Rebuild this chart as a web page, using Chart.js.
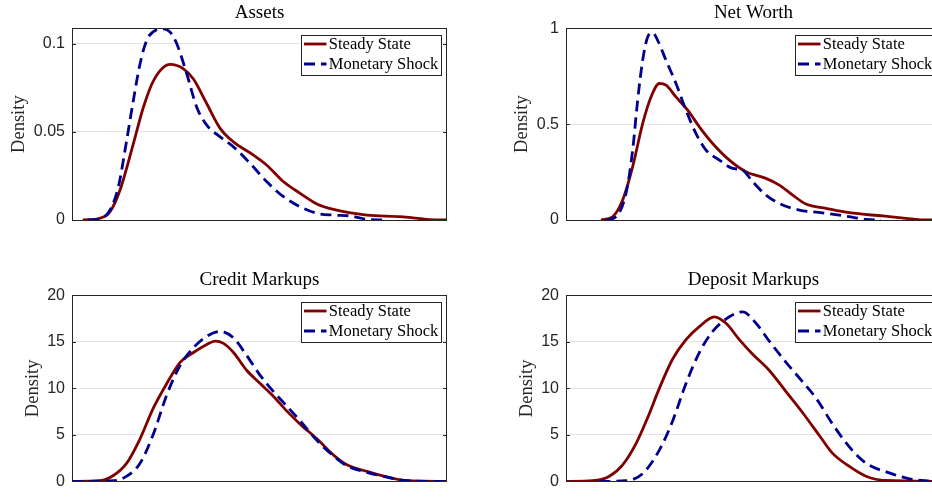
<!DOCTYPE html>
<html>
<head>
<meta charset="utf-8">
<script src="https://cdn.jsdelivr.net/npm/chart.js@4.4.1/dist/chart.umd.min.js"></script>
<style>
  html, body { margin:0; padding:0; background:#fff; }
  body { width:932px; height:498px; overflow:hidden; position:relative; }
  canvas { position:absolute; }
</style>
</head>
<body>
<canvas id="c1" width="466" height="249" style="left:0;top:0"></canvas>
<canvas id="c2" width="475" height="249" style="left:466px;top:0"></canvas>
<canvas id="c3" width="466" height="249" style="left:0;top:249px"></canvas>
<canvas id="c4" width="475" height="249" style="left:466px;top:249px"></canvas>
<script>
// ---------- data (x is position along the unlabeled horizontal axis, 0..100) ----------
const panelTitles = ['Assets', 'Net Worth', 'Credit Markups', 'Deposit Markups'];
const seriesNames = ['Steady State', 'Monetary Shock'];
const yAxisLabel = 'Density';

const assetsTicks = [0, 0.05, 0.1];
const netWorthTicks = [0, 0.5, 1];
const creditTicks = [0, 5, 10, 15, 20];
const depositTicks = [0, 5, 10, 15, 20];
const yMaxima = [0.1088, 1, 20, 20];

const assetsSteadyX = [2.85, 7.47, 10.14, 12.81, 16.37, 19.04, 21.71, 26.16, 29.72, 32.38, 35.94, 39.50, 43.06, 48.40, 51.96, 56.41, 60.85, 65.30, 69.75, 78.65, 87.54, 94.66, 100];
const assetsSteadyY = [0, 0.001, 0.0047, 0.017, 0.0434, 0.064, 0.079, 0.0883, 0.0858, 0.080, 0.066, 0.052, 0.0443, 0.0368, 0.0311, 0.0217, 0.0151, 0.0091, 0.006, 0.0028, 0.0019, 0.0004, 0];
const assetsShockX = [4.36, 7.47, 10.14, 12.37, 14.59, 16.37, 18.15, 19.93, 22.60, 24.38, 26.16, 27.94, 30.60, 33.27, 35.94, 39.50, 43.06, 47.51, 51.96, 56.41, 60.85, 65.30, 69.75, 74.20, 78.65, 83.10];
const assetsShockY = [0, 0.0006, 0.0057, 0.0189, 0.0453, 0.068, 0.0887, 0.102, 0.108, 0.1085, 0.1066, 0.100, 0.083, 0.064, 0.0538, 0.0472, 0.0415, 0.0321, 0.0217, 0.0132, 0.0075, 0.0038, 0.0028, 0.0023, 0.0004, 0];

const netWorthSteadyX = [9.33, 12.44, 15.11, 17.78, 20.44, 22.67, 24.89, 26.67, 29.33, 32.44, 35.56, 39.11, 43.56, 48.0, 53.33, 56.89, 60.44, 64.0, 69.33, 75.56, 84.44, 90.67, 95.1, 100];
const netWorthSteadyY = [0, 0.017, 0.104, 0.278, 0.503, 0.642, 0.712, 0.703, 0.642, 0.573, 0.486, 0.399, 0.3125, 0.252, 0.217, 0.182, 0.130, 0.083, 0.061, 0.038, 0.021, 0.009, 0, 0];
const netWorthShockX = [10.67, 13.33, 16.0, 17.78, 19.11, 20.44, 21.78, 23.11, 24.44, 26.67, 29.33, 32.0, 34.67, 37.33, 40.89, 44.44, 47.11, 49.78, 53.33, 57.78, 62.22, 69.33, 75.56, 80.0, 84.0];
const netWorthShockY = [0, 0.017, 0.139, 0.365, 0.625, 0.833, 0.955, 0.977, 0.9375, 0.833, 0.712, 0.573, 0.451, 0.365, 0.3125, 0.269, 0.260, 0.200, 0.130, 0.078, 0.052, 0.035, 0.017, 0.003, 0];

const creditSteadyX = [0, 7.47, 11.03, 14.59, 18.15, 21.71, 25.27, 28.83, 32.38, 35.94, 38.17, 40.39, 43.06, 46.62, 50.18, 53.74, 57.30, 60.85, 65.30, 69.75, 73.31, 78.65, 83.99, 89.32, 100];
const creditSteadyY = [0, 0.07, 0.63, 1.96, 4.58, 7.90, 10.52, 12.80, 13.85, 14.72, 15.07, 14.83, 13.85, 11.92, 10.52, 9.13, 7.55, 6.15, 4.58, 2.83, 1.78, 1.08, 0.49, 0.07, 0];
const creditShockX = [0, 11.03, 14.59, 18.15, 21.71, 25.27, 28.83, 32.38, 35.94, 39.50, 43.06, 46.62, 50.18, 53.74, 57.30, 60.85, 65.30, 69.75, 73.31, 78.65, 83.99, 89.32, 100];
const creditShockY = [0, 0.07, 0.56, 1.96, 5.10, 9.30, 12.45, 14.37, 15.59, 16.12, 15.42, 13.50, 11.40, 9.65, 8.08, 6.50, 4.41, 2.73, 1.68, 0.98, 0.45, 0.07, 0];

const depositSteadyX = [0, 7.11, 11.56, 15.11, 18.67, 21.78, 24.89, 28.44, 32.0, 35.56, 39.56, 42.67, 46.22, 49.78, 54.22, 58.67, 63.11, 67.56, 71.11, 75.56, 80.0, 85.33, 100];
const depositSteadyY = [0, 0.07, 0.56, 1.78, 4.06, 6.85, 10.0, 13.15, 15.24, 16.64, 17.69, 16.99, 15.24, 13.67, 11.92, 9.65, 7.38, 4.93, 3.01, 1.61, 0.56, 0.10, 0];
const depositShockX = [8.89, 16.0, 20.44, 24.89, 28.44, 32.0, 35.56, 39.11, 43.56, 47.11, 50.67, 54.22, 58.67, 63.11, 66.67, 71.11, 75.56, 80.0, 86.22, 91.56, 97.78];
const depositShockY = [0, 0.07, 0.84, 3.36, 6.50, 10.52, 13.85, 16.12, 17.69, 18.22, 16.99, 15.07, 12.80, 10.70, 8.95, 6.15, 3.71, 1.96, 0.91, 0.28, 0];

// ---------- styling ----------
const RED = '#800000';
const BLUE = '#00008f';
const AXIS_COLOR = '#262626';
const SERIF = '"Liberation Serif", "Times New Roman", serif';
const SANS = '"Liberation Sans", Arial, sans-serif';
const TICK_SIZE = 16;

function pts(xs, ys) { return xs.map((x, i) => ({ x: x, y: ys[i] })); }

const decorPlugin = {
  id: 'decor',
  afterDraw(chart, args, opts) {
    const ctx = chart.ctx;
    const a = chart.chartArea;
    const ys = chart.scales.y;
    ctx.save();
    // box
    ctx.strokeStyle = AXIS_COLOR;
    ctx.lineWidth = 1;
    ctx.strokeRect(Math.round(a.left) + 0.5, Math.round(a.top) + 0.5, Math.round(a.right - a.left) - 1, Math.round(a.bottom - a.top));
    // inward ticks on left and right
    ys.ticks.forEach(t => {
      const py = Math.round(ys.getPixelForValue(t.value)) + 0.5;
      ctx.beginPath();
      ctx.moveTo(a.left, py); ctx.lineTo(a.left + 4, py);
      ctx.moveTo(a.right, py); ctx.lineTo(a.right - 4, py);
      ctx.stroke();
    });
    // title
    ctx.fillStyle = '#000';
    ctx.font = '19px ' + SERIF;
    ctx.textAlign = 'center';
    ctx.textBaseline = 'alphabetic';
    ctx.fillText(opts.title, (a.left + a.right) / 2, a.top - 10.3);
    // y label, positioned relative to widest tick label
    ctx.font = TICK_SIZE + 'px ' + SANS;
    let maxW = 0;
    ys.ticks.forEach(t => { maxW = Math.max(maxW, ctx.measureText(String(t.label)).width); });
    const lx = a.left - 7 - maxW - 14.5;
    ctx.save();
    ctx.translate(lx, (a.top + a.bottom) / 2);
    ctx.rotate(-Math.PI / 2);
    ctx.font = '18.5px ' + SERIF;
    ctx.fillStyle = '#262626';
    ctx.textAlign = 'center';
    ctx.textBaseline = 'middle';
    ctx.fillText(yAxisLabel, 0, 0);
    ctx.restore();
    // legend
    const bx = Math.round(a.left + 228.7) + 0.5;
    const by = Math.round(a.top + 6.7) + 0.5;
    const bw = 140, bh = 40;
    ctx.fillStyle = '#fff';
    ctx.fillRect(bx, by, bw, bh);
    ctx.strokeStyle = AXIS_COLOR;
    ctx.lineWidth = 1;
    ctx.strokeRect(bx, by, bw, bh);
    const rows = [a.top + 15.7, a.top + 35.7];
    chart.data.datasets.forEach((ds, i) => {
      const ry = rows[i];
      ctx.save();
      ctx.strokeStyle = ds.borderColor;
      ctx.lineWidth = ds.borderWidth;
      ctx.setLineDash(ds.borderDash || []);
      ctx.beginPath();
      ctx.moveTo(bx + 2.5, ry);
      ctx.lineTo(bx + 25, ry);
      ctx.stroke();
      ctx.restore();
      ctx.fillStyle = '#000';
      ctx.font = '16.5px ' + SERIF;
      ctx.textAlign = 'left';
      ctx.textBaseline = 'middle';
      ctx.fillText(ds.label, bx + 27.3, ry + 0.5);
    });
    ctx.restore();
  }
};

function makePanel(canvasId, title, steadyX, steadyY, shockX, shockY, tickVals, yMax, axisWidth, pad) {
  return new Chart(document.getElementById(canvasId), {
    type: 'line',
    data: {
      datasets: [
        { label: seriesNames[0], data: pts(steadyX, steadyY), borderColor: RED, borderWidth: 2.8, pointRadius: 0, cubicInterpolationMode: 'monotone', order: 2, fill: false },
        { label: seriesNames[1], data: pts(shockX, shockY), borderColor: BLUE, borderWidth: 2.8, borderDash: [11, 6], pointRadius: 0, cubicInterpolationMode: 'monotone', order: 1, fill: false }
      ]
    },
    options: {
      responsive: false,
      animation: false,
      devicePixelRatio: 1,
      layout: { padding: pad },
      plugins: {
        legend: { display: false },
        tooltip: { enabled: false },
        title: { display: false },
        decor: { title: title }
      },
      scales: {
        x: { type: 'linear', min: 0, max: 100, display: false },
        y: {
          type: 'linear', min: 0, max: yMax,
          afterFit: s => { s.width = axisWidth; },
          afterBuildTicks: s => { s.ticks = tickVals.map(v => ({ value: v })); },
          ticks: { font: { family: SANS, size: TICK_SIZE }, color: AXIS_COLOR, padding: 7, callback: v => String(v) },
          grid: { color: '#e3e3e3', lineWidth: 1, drawTicks: false },
          border: { display: false }
        }
      }
    },
    plugins: [decorPlugin]
  });
}

makePanel('c1', panelTitles[0], assetsSteadyX, assetsSteadyY, assetsShockX, assetsShockY, assetsTicks, yMaxima[0], 72, { left: 0, right: 19, top: 28.3, bottom: 29 });
makePanel('c2', panelTitles[1], netWorthSteadyX, netWorthSteadyY, netWorthShockX, netWorthShockY, netWorthTicks, yMaxima[1], 100, { left: 0, right: 0, top: 28.3, bottom: 29 });
makePanel('c3', panelTitles[2], creditSteadyX, creditSteadyY, creditShockX, creditShockY, creditTicks, yMaxima[2], 72, { left: 0, right: 19, top: 46.3, bottom: 11.3 });
makePanel('c4', panelTitles[3], depositSteadyX, depositSteadyY, depositShockX, depositShockY, depositTicks, yMaxima[3], 100, { left: 0, right: 0, top: 46.3, bottom: 11.3 });
</script>
</body>
</html>
